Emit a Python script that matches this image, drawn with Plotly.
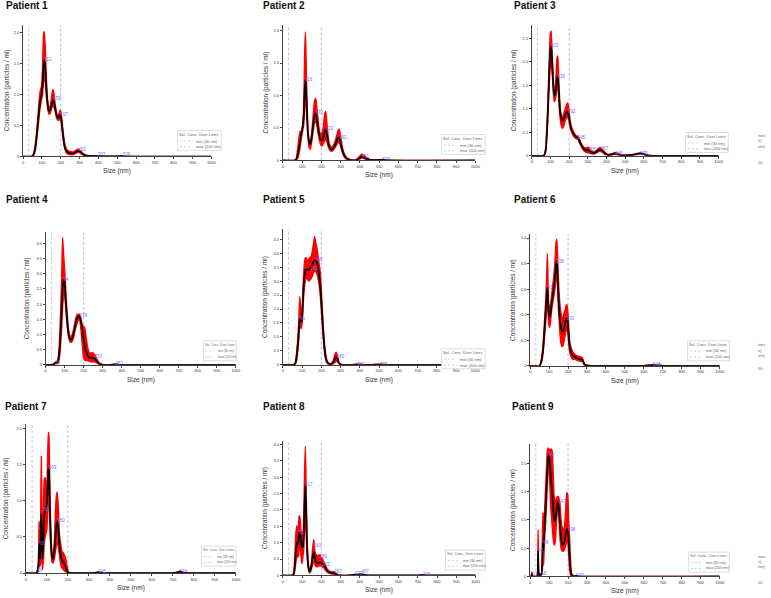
import plotly.graph_objects as go

# ---------------- data ----------------
user_lines = [30, 200]
user_line_labels = ["min (30 nm)", "max (200 nm)"]
x_ticks = [0, 100, 200, 300, 400, 500, 600, 700, 800, 900, 1000]
titles = ["Patient 1", "Patient 2", "Patient 3", "Patient 4", "Patient 5",
          "Patient 6", "Patient 7", "Patient 8", "Patient 9"]

p1_x = [0, 45, 55, 65, 75, 85, 92, 97, 103, 108, 112, 117, 123, 130, 137, 145, 152, 158, 163, 170, 178, 185, 192, 198, 205, 213, 222, 235, 250, 265, 280, 293, 305, 320, 340, 370, 397, 430, 480, 529, 570, 1000]
p1_mean = [0, 0, 0.03, 0.15, 0.42, 0.75, 0.92, 0.98, 1.15, 1.45, 1.55, 1.45, 1.12, 0.85, 0.73, 0.75, 0.85, 0.91, 0.89, 0.78, 0.66, 0.62, 0.64, 0.67, 0.55, 0.32, 0.15, 0.07, 0.05, 0.05, 0.07, 0.09, 0.07, 0.03, 0.01, 0.005, 0.006, 0.003, 0.003, 0.005, 0, 0]
p1_hi = [0, 0, 0.04, 0.2, 0.5, 0.9, 1.08, 1.12, 1.4, 1.95, 2.01, 1.8, 1.3, 0.92, 0.78, 0.82, 0.98, 1.08, 1.03, 0.85, 0.7, 0.66, 0.7, 0.75, 0.62, 0.38, 0.19, 0.1, 0.08, 0.07, 0.1, 0.12, 0.09, 0.045, 0.015, 0.008, 0.009, 0.005, 0.005, 0.008, 0, 0]
p1_lo = [0, 0, 0.02, 0.1, 0.35, 0.65, 0.82, 0.9, 1.0, 1.2, 1.3, 1.2, 0.98, 0.78, 0.68, 0.7, 0.78, 0.82, 0.8, 0.72, 0.62, 0.58, 0.59, 0.6, 0.48, 0.27, 0.11, 0.04, 0.03, 0.03, 0.05, 0.07, 0.05, 0.02, 0.005, 0.002, 0.003, 0.001, 0.001, 0.002, 0, 0]
p1_peak_x = [112, 159, 197, 293, 397, 529]
p1_peak_y = [1.55, 0.92, 0.67, 0.1, 0.02, 0.02]

p2_x = [0, 60, 70, 80, 90, 97, 103, 109, 114, 118, 123, 130, 137, 143, 150, 158, 165, 171, 178, 186, 194, 202, 210, 217, 223, 230, 240, 250, 260, 270, 280, 287, 293, 300, 310, 325, 345, 365, 385, 400, 411, 425, 445, 470, 520, 560, 1000]
p2_mean = [0, 0, 0.02, 0.12, 0.3, 0.42, 0.52, 0.7, 1.1, 1.24, 0.95, 0.45, 0.27, 0.25, 0.35, 0.55, 0.7, 0.73, 0.62, 0.45, 0.34, 0.31, 0.35, 0.44, 0.48, 0.38, 0.23, 0.17, 0.18, 0.23, 0.3, 0.35, 0.35, 0.28, 0.15, 0.05, 0.01, 0.0, 0.01, 0.04, 0.06, 0.04, 0.015, 0.005, 0.01, 0, 0]
p2_hi = [0, 0, 0.03, 0.25, 0.45, 0.45, 0.55, 0.9, 1.7, 1.98, 1.3, 0.55, 0.32, 0.3, 0.42, 0.7, 0.92, 0.96, 0.78, 0.55, 0.42, 0.42, 0.5, 0.7, 0.76, 0.55, 0.28, 0.21, 0.22, 0.28, 0.38, 0.46, 0.48, 0.38, 0.2, 0.07, 0.02, 0.005, 0.02, 0.07, 0.1, 0.07, 0.025, 0.008, 0.015, 0, 0]
p2_lo = [0, 0, 0.01, 0.05, 0.2, 0.35, 0.45, 0.55, 0.85, 1.0, 0.75, 0.38, 0.2, 0.17, 0.28, 0.45, 0.58, 0.6, 0.52, 0.38, 0.27, 0.22, 0.25, 0.3, 0.33, 0.28, 0.18, 0.14, 0.15, 0.19, 0.24, 0.27, 0.28, 0.22, 0.11, 0.03, 0.005, 0, 0.005, 0.025, 0.04, 0.025, 0.008, 0.002, 0.005, 0, 0]
p2_peak_x = [116, 170, 223, 292, 411, 520]
p2_peak_y = [1.24, 0.73, 0.48, 0.35, 0.06, 0.01]

p3_x = [0, 60, 68, 75, 82, 88, 94, 99, 103, 108, 114, 120, 125, 130, 135, 139, 144, 150, 157, 164, 170, 177, 185, 192, 198, 205, 213, 222, 232, 240, 246, 253, 262, 272, 283, 293, 302, 310, 320, 332, 345, 357, 367, 378, 392, 410, 428, 445, 462, 485, 510, 540, 565, 579, 595, 620, 660, 1000]
p3_mean = [0, 0, 0.02, 0.15, 0.6, 1.2, 1.85, 2.25, 2.33, 2.05, 1.55, 1.28, 1.3, 1.45, 1.65, 1.68, 1.4, 1.0, 0.8, 0.75, 0.78, 0.85, 0.92, 0.93, 0.85, 0.68, 0.55, 0.47, 0.42, 0.39, 0.38, 0.33, 0.25, 0.18, 0.13, 0.12, 0.12, 0.1, 0.07, 0.06, 0.08, 0.12, 0.13, 0.1, 0.05, 0.02, 0.03, 0.05, 0.03, 0.01, 0.01, 0.02, 0.04, 0.05, 0.04, 0.01, 0, 0]
p3_hi = [0, 0, 0.03, 0.2, 0.75, 1.4, 2.15, 2.6, 2.65, 2.3, 1.7, 1.38, 1.42, 1.75, 2.08, 2.12, 1.65, 1.12, 0.88, 0.83, 0.88, 0.98, 1.08, 1.12, 1.0, 0.75, 0.6, 0.52, 0.45, 0.42, 0.42, 0.37, 0.28, 0.21, 0.17, 0.17, 0.18, 0.15, 0.1, 0.08, 0.11, 0.16, 0.17, 0.14, 0.07, 0.03, 0.04, 0.07, 0.05, 0.02, 0.015, 0.03, 0.05, 0.06, 0.05, 0.015, 0, 0]
p3_lo = [0, 0, 0.01, 0.1, 0.5, 1.0, 1.6, 1.9, 2.0, 1.8, 1.4, 1.15, 1.18, 1.3, 1.45, 1.48, 1.2, 0.85, 0.65, 0.58, 0.62, 0.72, 0.8, 0.82, 0.75, 0.6, 0.5, 0.43, 0.38, 0.36, 0.35, 0.3, 0.22, 0.14, 0.09, 0.07, 0.06, 0.06, 0.04, 0.04, 0.06, 0.09, 0.1, 0.07, 0.03, 0.01, 0.02, 0.03, 0.02, 0.005, 0.005, 0.01, 0.03, 0.04, 0.03, 0.005, 0, 0]
p3_peak_x = [103, 138, 192, 245, 305, 367, 445, 579]
p3_peak_y = [2.33, 1.68, 0.93, 0.38, 0.12, 0.14, 0.05, 0.05]

p4_x = [0, 35, 45, 52, 58, 65, 72, 78, 84, 89, 94, 99, 104, 110, 117, 124, 131, 138, 146, 154, 162, 170, 178, 185, 192, 199, 206, 213, 220, 228, 236, 244, 252, 259, 266, 274, 283, 295, 310, 340, 367, 390, 420, 1000]
p4_mean = [0, 0, 0.03, 0.06, 0.05, 0.12, 0.4, 1.0, 1.8, 2.5, 2.8, 2.75, 2.3, 1.7, 1.2, 0.92, 0.82, 0.85, 1.0, 1.25, 1.48, 1.58, 1.6, 1.45, 1.2, 0.9, 0.6, 0.42, 0.32, 0.25, 0.22, 0.22, 0.22, 0.2, 0.14, 0.08, 0.03, 0.01, 0, 0, 0.01, 0, 0, 0]
p4_hi = [0, 0, 0.05, 0.09, 0.07, 0.2, 0.7, 1.6, 2.8, 4.2, 3.7, 3.2, 2.7, 2.0, 1.4, 1.0, 0.92, 0.98, 1.15, 1.4, 1.62, 1.67, 1.66, 1.55, 1.32, 1.27, 1.2, 0.9, 0.6, 0.42, 0.38, 0.4, 0.38, 0.32, 0.22, 0.13, 0.05, 0.02, 0, 0, 0.02, 0, 0, 0]
p4_lo = [0, 0, 0.01, 0.03, 0.03, 0.06, 0.2, 0.6, 1.2, 1.9, 2.2, 2.3, 2.0, 1.5, 1.05, 0.82, 0.74, 0.76, 0.88, 1.1, 1.3, 1.45, 1.48, 1.2, 0.7, 0.25, 0.15, 0.15, 0.14, 0.12, 0.1, 0.1, 0.1, 0.1, 0.07, 0.04, 0.01, 0, 0, 0, 0.005, 0, 0, 0]
p4_peak_x = [52, 94, 178, 257, 367]
p4_peak_y = [0.06, 2.8, 1.6, 0.25, 0.02]

p5_x = [0, 55, 65, 72, 79, 84, 88, 92, 96, 100, 104, 108, 113, 118, 124, 130, 136, 142, 148, 154, 160, 165, 170, 177, 183, 189, 195, 201, 207, 213, 219, 226, 233, 242, 252, 262, 270, 277, 284, 292, 300, 320, 360, 387, 420, 460, 505, 540, 1000]
p5_mean = [0, 0, 0.05, 0.3, 0.8, 1.3, 1.65, 1.62, 1.55, 1.7, 2.2, 2.8, 3.2, 3.4, 3.42, 3.4, 3.42, 3.45, 3.5, 3.6, 3.7, 3.75, 3.75, 3.68, 3.5, 3.2, 2.8, 2.2, 1.5, 0.9, 0.45, 0.18, 0.07, 0.03, 0.03, 0.08, 0.2, 0.28, 0.2, 0.06, 0.01, 0, 0, 0.01, 0, 0, 0.01, 0, 0]
p5_hi = [0, 0, 0.08, 0.45, 1.05, 1.7, 2.45, 2.1, 1.9, 2.0, 2.6, 3.2, 3.7, 3.85, 3.8, 3.7, 3.8, 3.85, 3.9, 4.1, 4.35, 4.6, 4.4, 4.2, 3.9, 3.6, 3.3, 2.6, 1.8, 1.1, 0.6, 0.25, 0.1, 0.05, 0.05, 0.15, 0.35, 0.45, 0.32, 0.1, 0.02, 0, 0, 0.02, 0, 0, 0.02, 0, 0]
p5_lo = [0, 0, 0.02, 0.15, 0.55, 0.95, 1.35, 1.35, 1.3, 1.45, 1.85, 2.4, 2.8, 3.05, 3.1, 3.05, 3.0, 3.05, 3.1, 3.2, 3.3, 3.35, 3.35, 3.25, 3.1, 2.85, 2.45, 1.85, 1.25, 0.7, 0.32, 0.12, 0.04, 0.01, 0.01, 0.03, 0.08, 0.12, 0.1, 0.03, 0, 0, 0, 0.005, 0, 0, 0.005, 0, 0]
p5_peak_x = [91, 143, 168, 280, 387, 505]
p5_peak_y = [1.65, 3.45, 3.75, 0.28, 0.01, 0.01]

p6_x = [0, 50, 58, 66, 73, 80, 86, 91, 95, 99, 103, 108, 114, 120, 126, 132, 137, 141, 145, 150, 156, 162, 168, 174, 180, 186, 191, 195, 199, 204, 210, 217, 225, 235, 245, 255, 265, 272, 278, 284, 292, 320, 400, 600, 648, 700, 1000]
p6_mean = [0, 0, 0.03, 0.1, 0.22, 0.38, 0.52, 0.61, 0.5, 0.4, 0.38, 0.42, 0.5, 0.56, 0.62, 0.72, 0.8, 0.81, 0.7, 0.52, 0.38, 0.3, 0.27, 0.27, 0.3, 0.34, 0.37, 0.37, 0.33, 0.22, 0.14, 0.1, 0.08, 0.07, 0.06, 0.055, 0.05, 0.05, 0.04, 0.015, 0.005, 0, 0, 0, 0.005, 0, 0]
p6_hi = [0, 0, 0.04, 0.13, 0.28, 0.46, 0.65, 0.88, 0.62, 0.47, 0.45, 0.48, 0.56, 0.64, 0.72, 0.85, 0.97, 0.99, 0.85, 0.65, 0.5, 0.42, 0.38, 0.38, 0.42, 0.44, 0.48, 0.47, 0.42, 0.3, 0.18, 0.14, 0.11, 0.09, 0.08, 0.075, 0.07, 0.068, 0.055, 0.025, 0.008, 0, 0, 0, 0.008, 0, 0]
p6_lo = [0, 0, 0.02, 0.07, 0.17, 0.3, 0.42, 0.5, 0.4, 0.32, 0.3, 0.35, 0.44, 0.5, 0.55, 0.62, 0.68, 0.7, 0.6, 0.42, 0.28, 0.18, 0.15, 0.16, 0.2, 0.25, 0.28, 0.3, 0.26, 0.16, 0.1, 0.07, 0.05, 0.05, 0.045, 0.04, 0.035, 0.035, 0.03, 0.01, 0.002, 0, 0, 0, 0.002, 0, 0]
p6_peak_x = [91, 138, 193, 648]
p6_peak_y = [0.61, 0.81, 0.37, 0.01]

p7_x = [0, 50, 56, 60, 63, 66, 69, 72, 74, 77, 80, 84, 88, 92, 96, 100, 104, 107, 110, 113, 117, 121, 125, 130, 136, 141, 146, 150, 155, 160, 166, 172, 178, 184, 190, 196, 202, 210, 250, 320, 345, 370, 600, 700, 725, 734, 745, 770, 1000]
p7_mean = [0, 0, 0.03, 0.1, 0.35, 0.4, 0.2, 0.6, 0.82, 0.45, 0.2, 0.5, 0.8, 0.88, 0.9, 0.95, 1.2, 1.42, 1.45, 1.1, 0.65, 0.35, 0.22, 0.2, 0.3, 0.5, 0.68, 0.72, 0.6, 0.4, 0.25, 0.18, 0.15, 0.12, 0.08, 0.03, 0.01, 0, 0, 0, 0.01, 0, 0, 0, 0.01, 0.02, 0.01, 0, 0]
p7_hi = [0, 0, 0.05, 0.15, 0.72, 0.6, 0.3, 1.2, 1.62, 0.8, 0.45, 0.9, 1.3, 1.32, 1.25, 1.2, 1.6, 1.9, 1.95, 1.5, 0.85, 0.45, 0.3, 0.28, 0.45, 0.85, 1.08, 1.12, 0.9, 0.55, 0.4, 0.3, 0.28, 0.25, 0.2, 0.1, 0.02, 0, 0, 0, 0.015, 0, 0, 0, 0.015, 0.03, 0.015, 0, 0]
p7_lo = [0, 0, 0.01, 0.05, 0.1, 0.15, 0.1, 0.2, 0.3, 0.2, 0.05, 0.2, 0.4, 0.5, 0.55, 0.6, 0.85, 1.0, 1.05, 0.75, 0.45, 0.25, 0.15, 0.14, 0.2, 0.3, 0.4, 0.45, 0.35, 0.25, 0.12, 0.07, 0.05, 0.03, 0.02, 0.005, 0, 0, 0, 0, 0.005, 0, 0, 0, 0.005, 0.01, 0.005, 0, 0]
p7_peak_x = [56, 69, 86, 109, 150, 345, 734]
p7_peak_y = [0.03, 0.4, 0.88, 1.45, 0.72, 0.01, 0.02]

p8_x = [0, 50, 57, 63, 68, 73, 77, 81, 85, 89, 94, 99, 104, 109, 113, 117, 121, 126, 131, 136, 140, 145, 150, 156, 161, 166, 172, 178, 185, 192, 199, 206, 214, 222, 230, 240, 250, 260, 267, 275, 285, 300, 340, 373, 390, 407, 430, 460, 700, 726, 750, 1000]
p8_mean = [0, 0, 0.05, 0.35, 0.75, 1.0, 0.95, 1.05, 1.3, 1.3, 1.05, 0.85, 0.9, 1.3, 2.2, 2.75, 2.0, 0.9, 0.35, 0.15, 0.12, 0.2, 0.35, 0.6, 0.72, 0.55, 0.42, 0.38, 0.38, 0.4, 0.38, 0.36, 0.3, 0.22, 0.15, 0.1, 0.08, 0.07, 0.07, 0.04, 0.01, 0, 0, 0.02, 0.02, 0.03, 0.01, 0, 0, 0.01, 0, 0]
p8_hi = [0, 0, 0.1, 0.7, 1.3, 1.52, 1.3, 1.5, 1.82, 1.78, 1.4, 1.3, 1.25, 1.9, 3.2, 3.95, 2.8, 1.2, 0.45, 0.2, 0.16, 0.28, 0.5, 0.9, 1.1, 0.75, 0.65, 0.6, 0.62, 0.63, 0.55, 0.5, 0.4, 0.3, 0.2, 0.13, 0.11, 0.1, 0.12, 0.07, 0.02, 0, 0, 0.03, 0.03, 0.04, 0.015, 0, 0, 0.015, 0, 0]
p8_lo = [0, 0, 0.02, 0.15, 0.4, 0.6, 0.55, 0.6, 0.85, 0.9, 0.6, 0.35, 0.55, 0.8, 1.5, 1.8, 1.3, 0.6, 0.25, 0.1, 0.07, 0.12, 0.22, 0.35, 0.45, 0.35, 0.27, 0.26, 0.28, 0.3, 0.28, 0.26, 0.22, 0.15, 0.1, 0.07, 0.05, 0.04, 0.04, 0.02, 0.005, 0, 0, 0.01, 0.01, 0.02, 0.005, 0, 0, 0.005, 0, 0]
p8_peak_x = [85, 117, 161, 189, 203, 267, 373, 407, 726]
p8_peak_y = [1.3, 2.75, 0.9, 0.55, 0.32, 0.1, 0.04, 0.1, 0.02]

p9_x = [0, 5, 9, 13, 18, 35, 39, 42, 45, 49, 55, 60, 64, 67, 70, 74, 78, 82, 86, 90, 95, 99, 104, 109, 113, 117, 122, 127, 132, 137, 142, 147, 152, 157, 163, 168, 173, 178, 183, 188, 193, 198, 203, 208, 213, 218, 225, 235, 243, 255, 1000]
p9_mean = [0, 0, 0.03, 0.01, 0, 0, 0.02, 0.45, 0.05, 0.02, 0.03, 0.04, 0.3, 0.6, 0.45, 0.75, 1.0, 1.25, 1.55, 1.85, 2.1, 2.15, 2.0, 1.75, 1.6, 1.45, 1.2, 1.0, 0.98, 1.1, 1.25, 1.32, 1.2, 0.95, 0.7, 0.58, 0.56, 0.58, 0.65, 0.75, 0.82, 0.83, 0.65, 0.35, 0.12, 0.03, 0.01, 0, 0.01, 0, 0]
p9_hi = [0, 0, 0.08, 0.02, 0, 0, 0.05, 0.82, 0.1, 0.04, 0.05, 0.06, 0.6, 1.13, 0.8, 1.0, 1.3, 1.6, 1.9, 2.2, 2.27, 2.2, 2.25, 2.25, 2.25, 2.2, 1.8, 1.4, 1.35, 1.35, 1.4, 1.42, 1.38, 1.3, 1.0, 0.88, 0.85, 0.8, 0.95, 1.2, 1.48, 1.45, 1.0, 0.7, 0.3, 0.06, 0.02, 0, 0.02, 0, 0]
p9_lo = [0, 0, 0.01, 0, 0, 0, 0, 0.1, 0.01, 0, 0.01, 0.02, 0.1, 0.2, 0.2, 0.5, 0.75, 0.95, 1.25, 1.55, 1.9, 2.05, 1.6, 1.2, 1.05, 0.85, 0.65, 0.55, 0.6, 0.85, 1.1, 1.2, 1.0, 0.7, 0.5, 0.45, 0.45, 0.45, 0.5, 0.55, 0.6, 0.6, 0.4, 0.12, 0.03, 0.005, 0, 0, 0.005, 0, 0]
p9_peak_x = [12, 42, 58, 69, 99, 147, 198, 243]
p9_peak_y = [0.03, 0.45, 0.04, 0.6, 2.15, 1.32, 0.83, 0.01]

y_tick_sets = [
    [0, 0.5, 1.0, 1.5, 2.0],
    [0, 0.5, 1.0, 1.5, 2.0],
    [0, 0.5, 1.0, 1.5, 2.0, 2.5],
    [0, 0.5, 1.0, 1.5, 2.0, 2.5, 3.0, 3.5, 4.0],
    [0, 0.5, 1.0, 1.5, 2.0, 2.5, 3.0, 3.5, 4.0, 4.5],
    [0, 0.2, 0.4, 0.6, 0.8, 1.0],
    [0, 0.5, 1.0, 1.5, 2.0],
    [0, 0.5, 1.0, 1.5, 2.0, 2.5, 3.0, 3.5, 4.0],
    [0, 0.5, 1.0, 1.5, 2.0],
]
y_max = [2.117, 2.087, 2.78, 4.37, 4.86, 1.03, 2.07, 4.12, 2.35]

series = [
    (p1_x, p1_mean, p1_lo, p1_hi, p1_peak_x, p1_peak_y),
    (p2_x, p2_mean, p2_lo, p2_hi, p2_peak_x, p2_peak_y),
    (p3_x, p3_mean, p3_lo, p3_hi, p3_peak_x, p3_peak_y),
    (p4_x, p4_mean, p4_lo, p4_hi, p4_peak_x, p4_peak_y),
    (p5_x, p5_mean, p5_lo, p5_hi, p5_peak_x, p5_peak_y),
    (p6_x, p6_mean, p6_lo, p6_hi, p6_peak_x, p6_peak_y),
    (p7_x, p7_mean, p7_lo, p7_hi, p7_peak_x, p7_peak_y),
    (p8_x, p8_mean, p8_lo, p8_hi, p8_peak_x, p8_peak_y),
    (p9_x, p9_mean, p9_lo, p9_hi, p9_peak_x, p9_peak_y),
]

# ---------------- layout (pixels) ----------------
W, H = 771, 598
# plot areas: left, right, top, bottom
boxes = [
    (22.3, 212, 25, 157), (284, 478, 25, 161), (535, 723.3, 25, 156.3),
    (45, 236.7, 233, 366), (284, 478, 230, 366), (533.3, 724.3, 235, 367),
    (25, 236.7, 425, 575), (284, 478.3, 442, 577.3), (533.3, 724.3, 445, 578.3),
]
title_pos = [(3, 6), (262, 6), (515, 6), (3, 200), (262, 200), (515, 200),
             (2, 408), (262, 408), (513, 408)]
ytitle_x = [5.7, 267, 517, 27, 266, 516, 5, 266, 516]
legend_boxes = [  # left, top, width, height
    (178, 131, 44, 20), (444, 135, 44, 20), (690, 133, 43, 20),
    (204, 342, 33, 20), (444, 350, 44, 20), (692, 342, 42, 20),
    (202, 548, 35, 20), (448, 552, 40, 20), (693, 554, 41, 20),
]
FONT = "Liberation Sans, Arial, sans-serif"
LINE_COLORS = ["#c9bfd0", "#b4b4e0"]


def px(x):
    return x / W


def py(y):
    return 1 - y / H


fig = go.Figure()
shapes = []
annotations = []
layout_axes = {}

for i, ((xs, mean, lo, hi, pkx, pky), box) in enumerate(zip(series, boxes)):
    n = i + 1
    xa = "x" if n == 1 else f"x{n}"
    ya = "y" if n == 1 else f"y{n}"
    l, r, t, b = box
    # red band
    fig.add_trace(go.Scatter(
        x=xs + xs[::-1], y=hi + lo[::-1], xaxis=xa, yaxis=ya,
        mode="lines", fill="toself", fillcolor="#ff0000",
        line=dict(color="#ff0000", width=1.4, shape="spline", smoothing=0.5),
        hoverinfo="skip", showlegend=False))
    # mean line
    fig.add_trace(go.Scatter(
        x=xs, y=mean, xaxis=xa, yaxis=ya, mode="lines",
        line=dict(color="#000000", width=1.7, shape="spline", smoothing=0.5),
        showlegend=False))
    # peak labels
    fig.add_trace(go.Scatter(
        x=pkx, y=pky, xaxis=xa, yaxis=ya, mode="text",
        text=[str(v) for v in pkx], textposition="middle right",
        textfont=dict(size=4.5, color="#6f6fff", family=FONT),
        cliponaxis=False, showlegend=False, hoverinfo="skip"))

    yt = y_tick_sets[i]
    layout_axes["xaxis" if n == 1 else f"xaxis{n}"] = dict(
        domain=[px(l), px(r)], range=[0, 1000], anchor=ya,
        showline=True, linecolor="#444", linewidth=0.8, mirror=False,
        ticks="outside", ticklen=2, tickwidth=0.6, tickcolor="#444",
        tickvals=x_ticks, ticktext=[str(v) for v in x_ticks],
        tickfont=dict(size=4, color="#333", family=FONT),
        showgrid=False, zeroline=False, fixedrange=True)
    layout_axes["yaxis" if n == 1 else f"yaxis{n}"] = dict(
        domain=[py(b), py(t)], range=[0, y_max[i]], anchor=xa,
        showline=True, linecolor="#444", linewidth=0.8,
        ticks="outside", ticklen=2, tickwidth=0.6, tickcolor="#444",
        tickvals=yt, ticktext=["0" if v == 0 else f"{v:.1f}" for v in yt],
        tickfont=dict(size=4, color="#333", family=FONT),
        showgrid=False, zeroline=False, fixedrange=True)

    # user lines
    for ul, col in zip(user_lines, LINE_COLORS):
        shapes.append(dict(type="line", xref=xa, yref=f"{ya} domain",
                           x0=ul, x1=ul, y0=0, y1=1, layer="below",
                           line=dict(color=col, width=0.9, dash="3px,2px")))

    # titles
    tx, ty = title_pos[i]
    annotations.append(dict(text=f"<b>{titles[i]}</b>", xref="paper", yref="paper",
                            x=px(tx), y=py(ty), xanchor="left", yanchor="middle",
                            showarrow=False, font=dict(size=10, color="#111", family=FONT)))
    annotations.append(dict(text="Concentration (particles / ml)", xref="paper", yref="paper",
                            x=px(ytitle_x[i]), y=py((t + b) / 2), textangle=-90,
                            xanchor="center", yanchor="middle", showarrow=False,
                            font=dict(size=6.4, color="#333", family=FONT)))
    annotations.append(dict(text="Size (nm)", xref="paper", yref="paper",
                            x=px((l + r) / 2), y=py(b + 15), xanchor="center", yanchor="middle",
                            showarrow=False, font=dict(size=6.5, color="#333", family=FONT)))

    # legend box
    lx, ly, lw, lh = legend_boxes[i]
    s = lw / 44.0
    shapes.append(dict(type="rect", xref="paper", yref="paper",
                       x0=px(lx), x1=px(lx + lw), y0=py(ly + lh), y1=py(ly),
                       line=dict(color="#c8c8c8", width=0.6), fillcolor="white"))
    annotations.append(dict(text="Sel. Conc. User Lines", xref="paper", yref="paper",
                            x=px(lx + lw / 2), y=py(ly + 3.8), xanchor="center", yanchor="middle",
                            showarrow=False, font=dict(size=4.1 * s, color="#666", family=FONT)))
    for k, (lab, col) in enumerate(zip(user_line_labels, LINE_COLORS)):
        yy = ly + 10.5 + k * 5.8
        shapes.append(dict(type="line", xref="paper", yref="paper",
                           x0=px(lx + 2.5 * s), x1=px(lx + 14 * s), y0=py(yy), y1=py(yy),
                           line=dict(color=col, width=0.7, dash="2px,2px")))
        annotations.append(dict(text=lab, xref="paper", yref="paper",
                                x=px(lx + 17 * s), y=py(yy), xanchor="left", yanchor="middle",
                                showarrow=False, font=dict(size=4 * s, color="#666", family=FONT)))

# clipped fragments of neighbouring panels at the right edge
edge_rows = [(136, 141.3, 146.7, 163.3), (346, 351.5, 357, 369.7), (558, 563.3, 568.7, 584)]
for r0, r1, r2, r3 in edge_rows:
    for txt, yy in (("ines", r0), ("n)", r1), ("nm)", r2), ("00", r3)):
        annotations.append(dict(text=txt, xref="paper", yref="paper",
                                x=px(761), y=py(yy), xanchor="left", yanchor="middle",
                                showarrow=False, font=dict(size=4, color="#666", family=FONT)))

fig.update_layout(
    width=W, height=H, autosize=False,
    margin=dict(l=0, r=0, t=0, b=0, pad=0),
    paper_bgcolor="white", plot_bgcolor="white",
    showlegend=False, shapes=shapes, annotations=annotations,
    font=dict(family=FONT),
    **layout_axes)

fig.write_html("out.html")
